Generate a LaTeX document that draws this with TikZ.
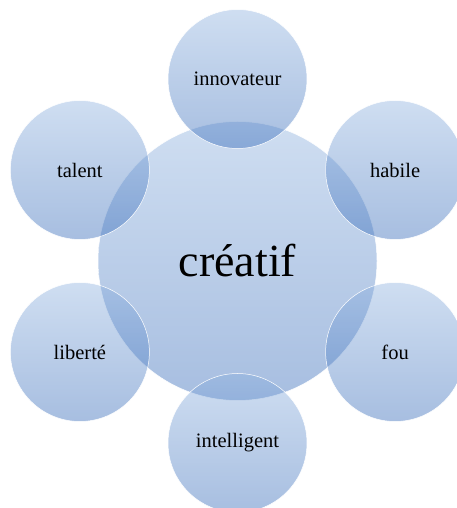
\documentclass[tikz,border=0pt]{standalone}
\usepackage{fontspec}
\setmainfont{Liberation Serif}
\definecolor{bubtop}{RGB}{140,176,222}
\definecolor{bubbot}{RGB}{45,100,182}
\tikzset{
    bubble/.style={circle, inner sep=0pt, minimum size=139pt, draw=white, line width=0.5pt,
        top color=bubtop, bottom color=bubbot, fill opacity=0.42, text opacity=1,
        font=\fontsize{20.5}{24}\selectfont},
    bigbubble/.style={bubble, minimum size=279pt, font=\fontsize{46}{52}\selectfont},
}
\begin{document}
\begin{tikzpicture}[x=1pt, y=1pt]
    \useasboundingbox (0,0) rectangle (456,508);
    % centre of the big circle and distance to the small ones
    \def\Cx{237.5}
    \def\Cy{247}
    \def\d{182}
    \coordinate (C) at (\Cx,\Cy);
    \node[bigbubble] (creatif) at (C) {créatif};
    \foreach \ang/\name/\txt in {90/innov/innovateur, 30/habile/habile, -30/fou/fou,
        -90/intel/intelligent, -150/liberte/liberté, 150/talent/talent}
        \node[bubble] (\name) at ([shift={(\ang:\d)}]C) {\txt};
\end{tikzpicture}
\end{document}
